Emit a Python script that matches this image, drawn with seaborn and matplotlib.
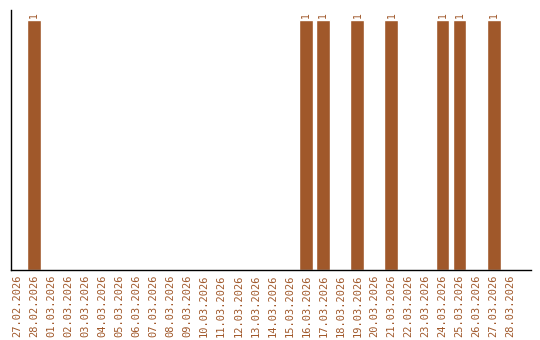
import matplotlib
matplotlib.use("Agg")
import matplotlib.pyplot as plt
import seaborn as sns
import pandas as pd

dates = ["27.02.2026", "28.02.2026", "01.03.2026", "02.03.2026", "03.03.2026", "04.03.2026",
         "05.03.2026", "06.03.2026", "07.03.2026", "08.03.2026", "09.03.2026", "10.03.2026",
         "11.03.2026", "12.03.2026", "13.03.2026", "14.03.2026", "15.03.2026", "16.03.2026",
         "17.03.2026", "18.03.2026", "19.03.2026", "20.03.2026", "21.03.2026", "22.03.2026",
         "23.03.2026", "24.03.2026", "25.03.2026", "26.03.2026", "27.03.2026", "28.03.2026"]
counts = [0, 1, 0, 0, 0, 0, 0, 0, 0, 0, 0, 0, 0, 0, 0, 0, 0, 1, 1, 0, 1, 0, 1, 0, 0, 1, 1, 0, 1, 0]

sns.set_theme(style="white")
plt.rcParams['font.family'] = ['DejaVu Sans Mono', 'DejaVu Sans']

color = "#A0582A"
df = pd.DataFrame({"date": dates, "count": counts})

fig = plt.figure(figsize=(5.4, 3.4), dpi=100)
ax = fig.add_axes([11/540, 70/340, 520/540, 260/340])
sns.barplot(data=df, x="date", y="count", color=color, saturation=1, width=0.82, ax=ax)
ax.set_ylim(0, 1.04)
ax.set_xlim(-0.35, 30.2)
for i, v in enumerate(counts):
    if v > 0:
        ax.text(i, v + 0.01, str(v), rotation=90, ha="center", va="bottom",
                fontsize=7, color=color)
ax.set_xlabel("")
ax.set_ylabel("")
ax.set_yticks([])
ax.tick_params(axis="x", length=0, pad=3, labelsize=7.5, labelcolor=color, rotation=90)
for s in ["top", "right"]:
    ax.spines[s].set_visible(False)
for s in ["left", "bottom"]:
    ax.spines[s].set_color("black")
    ax.spines[s].set_linewidth(1)
fig.savefig("out.png", dpi=100)
